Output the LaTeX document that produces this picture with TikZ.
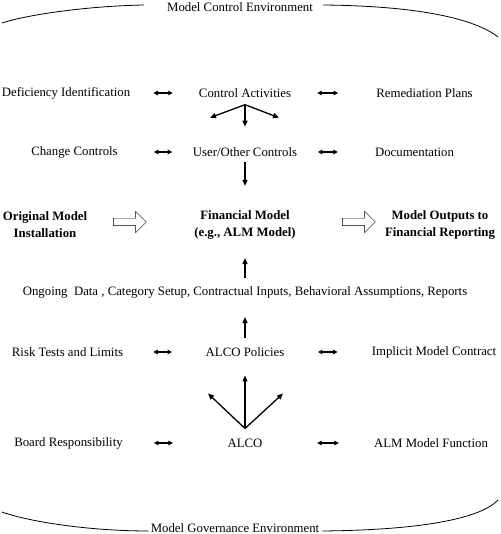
\documentclass[tikz,border=0pt]{standalone}
\usepackage{fontspec}
\setmainfont{Liberation Serif}
\usepackage{tikz}
\usetikzlibrary{shapes.arrows,arrows.meta}
\usetikzlibrary{positioning}

\begin{document}
\begin{tikzpicture}[>={Triangle[length=6pt,width=5pt]}, node distance = 59pt, auto,
    lbl/.style={inner sep=0pt, align=center, font=\fontsize{12.8}{17}\selectfont},
    bld/.style={lbl, font=\fontsize{12.8}{17}\selectfont\bfseries},
    dbl/.style={{Triangle[length=4.5pt,width=4.5pt]}-{Triangle[length=4.5pt,width=4.5pt]}, line width=1.5pt},
    fan/.style={->, line width=1.3pt},
    openarr/.style={draw, single arrow, single arrow head extend=7pt, inner sep=3.5pt, minimum height=33pt, minimum width=21pt},
    env/.style={line width=0.8pt}]
			\useasboundingbox (0,0) rectangle (500pt,534pt);
			\node[lbl] (CtrlAct) at (245pt,441pt) {Control Activities};
			\node[lbl, left of=CtrlAct, node distance=179pt] (Defic) {Deficiency Identification};
			\node[lbl, right of=CtrlAct, node distance=179.5pt] (Remed) {Remediation Plans};
			\node[lbl, below of=CtrlAct] (UserCtrl) {User/Other Controls};
			\node[lbl, left of=UserCtrl, node distance=170.5pt] (ChgCtrl) {Change Controls};
			\node[lbl, right of=UserCtrl, node distance=169.5pt] (Docu) {Documentation};
			\node[bld, below of=UserCtrl, node distance=72.5pt] (FinModel) {Financial Model\\(e.g., ALM Model)};
			\node[bld, left of=FinModel, node distance=200pt] (OrigInst) {Original Model\\Installation};
			\node[bld, right of=FinModel, node distance=195pt] (Outputs) {Model Outputs to\\Financial Reporting};
			\node[openarr, left of=FinModel, node distance=117pt, yshift=2.5pt] (ArrIn) {};
			\node[openarr, right of=FinModel, node distance=112pt, yshift=2.5pt] (ArrOut) {};
			\node[lbl, below of=FinModel, node distance=67.5pt] (Ongoing) {Ongoing\ \ Data , Category Setup, Contractual Inputs, Behavioral Assumptions, Reports};
			\node[lbl, below of=Ongoing, node distance=60pt] (ALCOPol) {ALCO Policies};
			\node[lbl, left of=ALCOPol, node distance=177.5pt] (RiskTest) {Risk Tests and Limits};
			\node[lbl, right of=ALCOPol, node distance=189pt] (ImplCon) {Implicit Model Contract};
			\node[lbl, below of=ALCOPol, node distance=91pt] (ALCO) {ALCO};
			\node[lbl, left of=ALCO, node distance=176.5pt] (BoardResp) {Board Responsibility};
			\node[lbl, right of=ALCO, node distance=186pt] (ALMFunc) {ALM Model Function};
			\node[lbl] (CtrlEnv) at (240pt,527pt) {Model Control Environment};
			\node[lbl] (GovEnv) at (235pt,6pt) {Model Governance Environment};
			% environment arcs
			\coordinate (ctlL) at (2pt,511pt);
			\coordinate (ctlR) at (498pt,497pt);
			\coordinate (govL) at (2pt,22pt);
			\coordinate (govR) at (498pt,34pt);
			\draw[env] ([xshift=-23pt,yshift=2pt]CtrlEnv.west) .. controls (90pt,528pt) and (30pt,520pt) .. (ctlL);
			\draw[env] ([xshift=10pt,yshift=2pt]CtrlEnv.east) .. controls (420pt,528pt) and (475pt,515pt) .. (ctlR);
			\draw[env] ([xshift=-2pt,yshift=-3pt]GovEnv.west) .. controls (90pt,3pt) and (30pt,12pt) .. (govL);
			\draw[env] ([xshift=3pt,yshift=-3pt]GovEnv.east) .. controls (420pt,4pt) and (480pt,15pt) .. (govR);
			% side links
			\draw[dbl, shorten <=23pt, shorten >=26pt] (Defic) -- (CtrlAct);
			\draw[dbl, shorten <=26pt, shorten >=38pt] (CtrlAct) -- (Remed);
			\draw[dbl, shorten <=36pt, shorten >=20.5pt] (ChgCtrl) -- (UserCtrl);
			\draw[dbl, shorten <=20.5pt, shorten >=37pt] (UserCtrl) -- (Docu);
			\draw[dbl, shorten <=30pt, shorten >=33.5pt] (RiskTest) -- (ALCOPol);
			\draw[dbl, shorten <=33.5pt, shorten >=34pt] (ALCOPol) -- (ImplCon);
			\draw[dbl, shorten <=31pt, shorten >=54.5pt] (BoardResp) -- (ALCO);
			\draw[dbl, shorten <=54.5pt, shorten >=35pt] (ALCO) -- (ALMFunc);
			% control fan
			\coordinate (caRoot) at ([yshift=-7pt]CtrlAct.south);
			\draw[fan] (caRoot) -- ++(-35pt,-13pt);
			\draw[fan] (caRoot) -- ++(0pt,-22pt);
			\draw[fan] (caRoot) -- ++(34pt,-13pt);
			\draw[fan, shorten <=5pt, shorten >=24pt] (UserCtrl) -- (FinModel);
			\draw[fan, shorten <=8pt, shorten >=19pt] (Ongoing) -- (FinModel);
			\draw[fan, shorten <=9pt, shorten >=19pt] (ALCOPol) -- (Ongoing);
			% governance fan
			\coordinate (alRoot) at ([yshift=10pt]ALCO.north);
			\draw[fan] (alRoot) -- ++(0pt,53pt);
			\draw[fan] (alRoot) -- ++(-37pt,35pt);
			\draw[fan] (alRoot) -- ++(38pt,35pt);
		\end{tikzpicture}
\end{document}
